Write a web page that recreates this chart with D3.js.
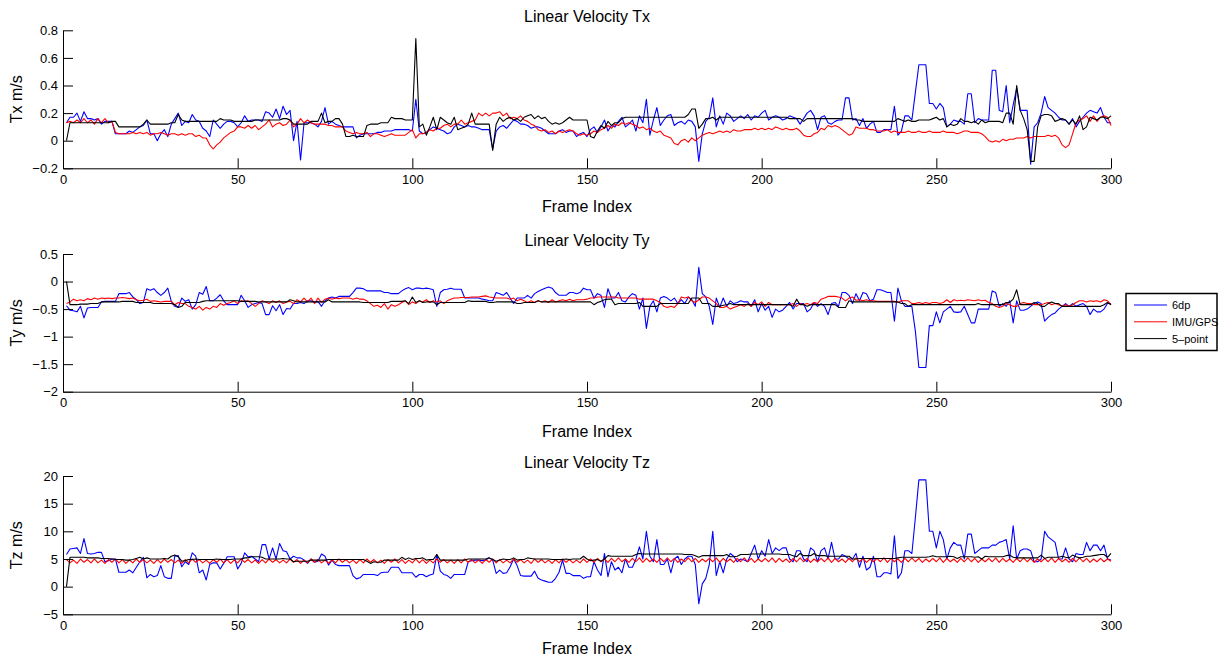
<!DOCTYPE html>
<html>
<head>
<meta charset="utf-8">
<script src="https://cdn.jsdelivr.net/npm/d3@7"></script>
<style>
  body { margin: 0; background: #fff; }
  text { font-family: "Liberation Sans", Arial, Helvetica, sans-serif; fill: #000; }
</style>
</head>
<body>
<div id="chart"></div>
<script>
"use strict";

// frame axis
var frameTicks = [0, 50, 100, 150, 200, 250, 300];

// series names (legend order)
var seriesNames = ["6dp", "IMU/GPS", "5\u2013point"];

// Tx
var txTicks = [-0.2, 0, 0.2, 0.4, 0.6, 0.8];
var tx6dp = [
  0.13, 0.17, 0.17, 0.2, 0.14, 0.21, 0.16, 0.16, 0.15, 0.16,
  0.12, 0.14, 0.14, 0.14, 0.05, 0.05, 0.05, 0.05, 0.07, 0.06,
  0.08, 0.1, 0.11, 0.15, 0.05, 0.05, 0.0, 0.05, 0.08, 0.03,
  0.12, 0.16, 0.2, 0.11, 0.14, 0.13, 0.19, 0.15, 0.14, 0.09,
  0.07, 0.03, 0.15, 0.12, 0.09, 0.12, 0.14, 0.14, 0.13, 0.1,
  0.13, 0.18, 0.14, 0.15, 0.15, 0.15, 0.14, 0.21, 0.2, 0.17,
  0.23, 0.16, 0.25, 0.19, 0.22, 0.0, 0.14, -0.14, 0.13, 0.13,
  0.13, 0.12, 0.1, 0.14, 0.24, 0.12, 0.14, 0.12, 0.11, 0.1,
  0.1, 0.1, 0.1, 0.02, 0.04, 0.05, 0.05, 0.05, 0.05, 0.06,
  0.06, 0.07, 0.07, 0.07, 0.08, 0.08, 0.08, 0.08, 0.08, 0.07,
  0.3, 0.07, 0.05, 0.06, 0.08, 0.1, 0.09, 0.08, 0.07, 0.05,
  0.06, 0.1, 0.12, 0.11, 0.1, 0.11, 0.1, 0.1, 0.09, 0.08,
  0.08, 0.08, -0.06, 0.07, 0.1, 0.11, 0.09, 0.12, 0.15, 0.14,
  0.12, 0.12, 0.11, 0.09, 0.1, 0.1, 0.09, 0.07, 0.05, 0.05,
  0.05, 0.07, 0.08, 0.06, 0.07, 0.07, 0.03, 0.05, 0.06, 0.03,
  0.08, 0.1, 0.06, 0.1, 0.15, 0.07, 0.11, 0.1, 0.14, 0.17,
  0.1, 0.12, 0.15, 0.07, 0.18, 0.13, 0.3, 0.04, 0.15, 0.24,
  0.11, 0.15, 0.18, 0.19, 0.11, 0.13, 0.14, 0.12, 0.15, 0.14,
  0.1, -0.15, 0.05, 0.14, 0.17, 0.31, 0.1, 0.18, 0.12, 0.2,
  0.18, 0.14, 0.16, 0.18, 0.16, 0.19, 0.15, 0.18, 0.17, 0.2,
  0.22, 0.15, 0.17, 0.18, 0.17, 0.15, 0.16, 0.18, 0.17, 0.16,
  0.12, 0.16, 0.2, 0.22, 0.18, 0.08, 0.17, 0.18, 0.13, 0.12,
  0.14, 0.15, 0.15, 0.31, 0.31, 0.15, 0.16, 0.11, 0.16, 0.09,
  0.12, 0.14, 0.06, 0.06, 0.08, 0.08, 0.08, 0.25, 0.04, 0.07,
  0.18, 0.18, 0.15, 0.35, 0.55, 0.55, 0.55, 0.27, 0.27, 0.23,
  0.27, 0.24, 0.1, 0.12, 0.15, 0.14, 0.14, 0.12, 0.34, 0.34,
  0.13, 0.16, 0.15, 0.15, 0.15, 0.51, 0.51, 0.22, 0.21, 0.4,
  0.13, 0.26, 0.38, 0.22, 0.22, 0.22, -0.17, 0.1, 0.13, 0.2,
  0.32, 0.24, 0.22, 0.2, 0.17, 0.15, 0.15, 0.12, 0.16, 0.1,
  0.14, 0.17, 0.2, 0.22, 0.21, 0.2, 0.24, 0.17, 0.13, 0.13
];
var txImu = [
  0.13, 0.14, 0.13, 0.15, 0.13, 0.16, 0.13, 0.15, 0.12, 0.16,
  0.13, 0.16, 0.13, 0.14, 0.06, 0.05, 0.05, 0.05, 0.05, 0.06,
  0.05, 0.06, 0.05, 0.06, 0.04, 0.05, 0.05, 0.06, 0.05, 0.04,
  0.05, 0.05, 0.04, 0.05, 0.04, 0.05, 0.05, 0.03, 0.04, 0.02,
  0.02, -0.03, -0.06, -0.03, -0.01, 0.02, 0.04, 0.06, 0.07, 0.1,
  0.1, 0.09, 0.11, 0.09, 0.11, 0.08, 0.1, 0.12, 0.15, 0.1,
  0.12, 0.13, 0.11, 0.12, 0.15, 0.1, 0.12, 0.16, 0.13, 0.15,
  0.13, 0.12, 0.12, 0.12, 0.12, 0.11, 0.11, 0.1, 0.1, 0.1,
  0.07, 0.06, 0.05, 0.06, 0.05, 0.05, 0.06, 0.03, 0.05, 0.05,
  0.04, 0.03, 0.04, 0.05, 0.04, 0.04, 0.04, 0.04, 0.06, 0.08,
  0.02, 0.05, 0.05, 0.06, 0.08, 0.07, 0.09, 0.09, 0.11, 0.12,
  0.1, 0.12, 0.12, 0.15, 0.12, 0.13, 0.14, 0.15, 0.2, 0.18,
  0.2, 0.18, 0.2, 0.2, 0.21, 0.18, 0.2, 0.16, 0.17, 0.16,
  0.18, 0.15, 0.14, 0.12, 0.11, 0.08, 0.07, 0.08, 0.06, 0.07,
  0.05, 0.07, 0.06, 0.07, 0.08, 0.07, 0.05, 0.04, 0.05, 0.04,
  0.05, 0.07, 0.06, 0.08, 0.09, 0.11, 0.09, 0.12, 0.11, 0.13,
  0.12, 0.13, 0.12, 0.11, 0.09, 0.1, 0.08, 0.09, 0.07, 0.06,
  0.07, 0.04, 0.03, 0.02, -0.02, -0.03, 0.0, 0.01, -0.01, 0.02,
  0.0, 0.02, 0.04, 0.05, 0.06, 0.05, 0.06, 0.07, 0.06, 0.07,
  0.06, 0.08, 0.07, 0.07, 0.08, 0.08, 0.08, 0.09, 0.08, 0.09,
  0.08, 0.09, 0.08, 0.1, 0.09, 0.08, 0.09, 0.08, 0.08, 0.09,
  0.07, 0.04, 0.03, 0.03, 0.05, 0.06, 0.09, 0.08, 0.11, 0.1,
  0.11, 0.1, 0.08, 0.06, 0.04, 0.05, 0.1, 0.09, 0.09, 0.09,
  0.08, 0.08, 0.07, 0.07, 0.07, 0.08, 0.06, 0.07, 0.06, 0.06,
  0.06, 0.07, 0.06, 0.06, 0.07, 0.06, 0.06, 0.07, 0.06, 0.06,
  0.06, 0.07, 0.06, 0.06, 0.06, 0.05, 0.06, 0.07, 0.07, 0.06,
  0.06, 0.06, 0.05, 0.03, 0.0, -0.01, 0.0, -0.01, 0.01, 0.0,
  0.01, 0.01, 0.02, 0.02, 0.02, 0.03, 0.02, 0.03, 0.03, 0.03,
  0.03, 0.04, 0.03, 0.04, 0.02, -0.03, -0.05, -0.03, 0.05, 0.13,
  0.15, 0.16, 0.18, 0.14, 0.18, 0.14, 0.17, 0.18, 0.17, 0.11
];
var tx5pt = [
  0, 0.13, 0.13, 0.13, 0.13, 0.13, 0.13, 0.13, 0.13, 0.13,
  0.13, 0.13, 0.13, 0.14, 0.14, 0.1, 0.1, 0.1, 0.1, 0.1,
  0.1, 0.1, 0.12, 0.15, 0.12, 0.12, 0.12, 0.12, 0.12, 0.12,
  0.13, 0.13, 0.19, 0.15, 0.14, 0.14, 0.14, 0.14, 0.14, 0.14,
  0.14, 0.14, 0.14, 0.14, 0.16, 0.15, 0.15, 0.15, 0.14, 0.14,
  0.14, 0.14, 0.14, 0.14, 0.15, 0.15, 0.15, 0.15, 0.15, 0.15,
  0.15, 0.15, 0.16, 0.16, 0.15, 0.12, 0.12, 0.12, 0.12, 0.12,
  0.14, 0.14, 0.14, 0.2, 0.13, 0.14, 0.14, 0.16, 0.16, 0.12,
  0.03, 0.03, 0.04, 0.03, 0.03, 0.03, 0.11, 0.12, 0.12, 0.12,
  0.13, 0.13, 0.13, 0.17, 0.16, 0.16, 0.16, 0.15, 0.15, 0.15,
  0.74, 0.1, 0.12, 0.04, 0.1, 0.17, 0.08, 0.17, 0.15, 0.13,
  0.12, 0.17, 0.08, 0.09, 0.1, 0.12, 0.2, 0.12, 0.12, 0.12,
  0.12, 0.12, -0.07, 0.12, 0.17, 0.14, 0.16, 0.17, 0.15, 0.16,
  0.14, 0.17, 0.18, 0.19, 0.16, 0.18, 0.16, 0.17, 0.14, 0.12,
  0.13, 0.12, 0.13, 0.15, 0.17, 0.15, 0.15, 0.15, 0.15, 0.15,
  0.03, 0.02, 0.07, 0.11, 0.09, 0.14, 0.11, 0.13, 0.13, 0.16,
  0.17, 0.17, 0.17, 0.17, 0.17, 0.17, 0.17, 0.17, 0.17, 0.17,
  0.17, 0.17, 0.17, 0.17, 0.17, 0.17, 0.17, 0.17, 0.19, 0.23,
  0.23, 0.09, 0.12, 0.16, 0.16, 0.17, 0.15, 0.17, 0.17, 0.17,
  0.17, 0.17, 0.17, 0.17, 0.17, 0.17, 0.17, 0.17, 0.17, 0.17,
  0.17, 0.17, 0.17, 0.17, 0.17, 0.17, 0.17, 0.16, 0.16, 0.16,
  0.16, 0.14, 0.16, 0.16, 0.16, 0.16, 0.16, 0.16, 0.16, 0.16,
  0.16, 0.16, 0.16, 0.16, 0.16, 0.16, 0.15, 0.15, 0.14, 0.14,
  0.14, 0.14, 0.14, 0.14, 0.14, 0.14, 0.14, 0.14, 0.16, 0.15,
  0.14, 0.15, 0.14, 0.14, 0.15, 0.15, 0.15, 0.15, 0.16, 0.17,
  0.15, 0.16, 0.1, 0.12, 0.11, 0.12, 0.16, 0.14, 0.14, 0.13,
  0.14, 0.12, 0.15, 0.13, 0.14, 0.14, 0.14, 0.14, 0.13, 0.2,
  0.2, 0.12, 0.4, 0.22, 0.16, 0.08, -0.15, -0.15, 0.1, 0.18,
  0.19, 0.19, 0.18, 0.14, 0.15, 0.16, 0.15, 0.12, 0.15, 0.12,
  0.18, 0.08, 0.1, 0.17, 0.16, 0.15, 0.17, 0.17, 0.16, 0.18
];

// Ty
var tyTicks = [-2, -1.5, -1, -0.5, 0, 0.5];
var ty6dp = [
  -0.44, -0.52, -0.53, -0.55, -0.45, -0.66, -0.48, -0.47, -0.47, -0.47,
  -0.37, -0.36, -0.36, -0.36, -0.36, -0.22, -0.22, -0.22, -0.2, -0.28,
  -0.33, -0.4, -0.38, -0.13, -0.16, -0.13, -0.2, -0.25, -0.2, -0.12,
  -0.36, -0.45, -0.47, -0.3, -0.36, -0.33, -0.5, -0.42, -0.2, -0.23,
  -0.09, -0.35, -0.35, -0.3, -0.24, -0.35, -0.42, -0.42, -0.42, -0.42,
  -0.25, -0.35, -0.47, -0.42, -0.4, -0.38, -0.4, -0.6, -0.6, -0.44,
  -0.53, -0.42, -0.6, -0.49, -0.5, -0.4, -0.4, -0.38, -0.4, -0.35,
  -0.35, -0.38, -0.36, -0.45, -0.35, -0.3, -0.28, -0.3, -0.27, -0.27,
  -0.27, -0.27, -0.2, -0.12, -0.12, -0.13, -0.17, -0.17, -0.17, -0.17,
  -0.17, -0.2, -0.2, -0.22, -0.22, -0.22, -0.17, -0.13, -0.11, -0.15,
  -0.12, -0.12, -0.13, -0.12, -0.13, -0.15, -0.45, -0.2, -0.15, -0.14,
  -0.12, -0.14, -0.14, -0.14, -0.3, -0.3, -0.3, -0.3, -0.3, -0.32,
  -0.33, -0.35, -0.35, -0.2, -0.22, -0.25, -0.2, -0.3, -0.4, -0.3,
  -0.3, -0.3, -0.25, -0.3, -0.22, -0.18, -0.15, -0.12, -0.1, -0.12,
  -0.2, -0.25, -0.25, -0.25, -0.2, -0.2, -0.22, -0.2, -0.12, -0.15,
  -0.15, -0.3, -0.22, -0.25, -0.47, -0.13, -0.3, -0.3, -0.2, -0.35,
  -0.37, -0.28, -0.22, -0.25, -0.5, -0.3, -0.85, -0.45, -0.35, -0.55,
  -0.3, -0.27, -0.3, -0.35, -0.3, -0.4, -0.33, -0.4, -0.28, -0.33,
  -0.45, 0.26, -0.22, -0.28, -0.45, -0.78, -0.3, -0.47, -0.3, -0.45,
  -0.35, -0.4, -0.38, -0.35, -0.37, -0.37, -0.45, -0.33, -0.55, -0.4,
  -0.52, -0.45, -0.65, -0.5, -0.55, -0.52, -0.45, -0.38, -0.5, -0.4,
  -0.4, -0.4, -0.55, -0.5, -0.38, -0.45, -0.4, -0.45, -0.6, -0.4,
  -0.38, -0.45, -0.2, -0.2, -0.25, -0.4, -0.22, -0.35, -0.2, -0.22,
  -0.35, -0.32, -0.15, -0.15, -0.17, -0.2, -0.2, -0.72, -0.12, -0.35,
  -0.45, -0.45, -0.45, -0.9, -1.56, -1.56, -1.56, -0.8, -0.8, -0.55,
  -0.75, -0.55, -0.5, -0.45, -0.55, -0.56, -0.55, -0.45, -0.6, -0.75,
  -0.75, -0.5, -0.5, -0.5, -0.5, -0.17, -0.2, -0.45, -0.4, -0.45,
  -0.35, -0.75, -0.35, -0.52, -0.52, -0.5, -0.45, -0.4, -0.37, -0.4,
  -0.72, -0.65, -0.6, -0.57, -0.5, -0.45, -0.4, -0.45, -0.4, -0.45,
  -0.42, -0.4, -0.45, -0.6, -0.5, -0.55, -0.55, -0.5, -0.4, -0.4
];
var tyImu = [
  -0.4, -0.37, -0.32, -0.35, -0.33, -0.35, -0.31, -0.33, -0.3, -0.32,
  -0.3, -0.31, -0.3, -0.31, -0.3, -0.3, -0.29, -0.3, -0.31, -0.3,
  -0.33, -0.35, -0.34, -0.32, -0.36, -0.35, -0.36, -0.37, -0.36, -0.36,
  -0.36, -0.42, -0.38, -0.4, -0.4, -0.45, -0.47, -0.5, -0.45, -0.52,
  -0.47, -0.5, -0.45, -0.47, -0.4, -0.43, -0.4, -0.38, -0.35, -0.4,
  -0.35, -0.36, -0.35, -0.4, -0.45, -0.4, -0.35, -0.37, -0.4, -0.35,
  -0.38, -0.35, -0.4, -0.37, -0.36, -0.4, -0.33, -0.37, -0.3, -0.37,
  -0.3, -0.4, -0.3, -0.38, -0.32, -0.3, -0.32, -0.3, -0.31, -0.3,
  -0.3, -0.3, -0.32, -0.3, -0.32, -0.32, -0.35, -0.4, -0.45, -0.43,
  -0.47, -0.4, -0.5, -0.42, -0.45, -0.42, -0.38, -0.35, -0.42, -0.37,
  -0.4, -0.35, -0.37, -0.33, -0.38, -0.35, -0.37, -0.35, -0.4, -0.35,
  -0.32, -0.3, -0.3, -0.29, -0.29, -0.29, -0.28, -0.28, -0.28, -0.27,
  -0.26, -0.28, -0.29, -0.3, -0.3, -0.3, -0.3, -0.32, -0.3, -0.35,
  -0.32, -0.35, -0.38, -0.35, -0.38, -0.35, -0.37, -0.35, -0.38, -0.33,
  -0.37, -0.35, -0.33, -0.35, -0.32, -0.35, -0.33, -0.33, -0.33, -0.32,
  -0.3, -0.3, -0.28, -0.28, -0.28, -0.28, -0.28, -0.28, -0.3, -0.3,
  -0.3, -0.3, -0.3, -0.3, -0.32, -0.32, -0.32, -0.32, -0.32, -0.35,
  -0.38, -0.45, -0.47, -0.45, -0.47, -0.4, -0.28, -0.3, -0.28, -0.35,
  -0.38, -0.33, -0.28, -0.28, -0.3, -0.35, -0.4, -0.47, -0.47, -0.45,
  -0.5, -0.47, -0.45, -0.42, -0.45, -0.4, -0.45, -0.38, -0.42, -0.37,
  -0.45, -0.38, -0.42, -0.42, -0.42, -0.42, -0.42, -0.42, -0.4, -0.45,
  -0.4, -0.42, -0.4, -0.42, -0.38, -0.4, -0.32, -0.3, -0.27, -0.27,
  -0.27, -0.28, -0.3, -0.35, -0.3, -0.28, -0.34, -0.33, -0.35, -0.33,
  -0.35, -0.35, -0.36, -0.36, -0.36, -0.36, -0.36, -0.36, -0.38, -0.35,
  -0.35, -0.35, -0.4, -0.4, -0.38, -0.4, -0.38, -0.4, -0.38, -0.38,
  -0.4, -0.38, -0.33, -0.38, -0.33, -0.35, -0.34, -0.35, -0.33, -0.34,
  -0.35, -0.33, -0.35, -0.34, -0.38, -0.4, -0.45, -0.47, -0.45, -0.4,
  -0.42, -0.45, -0.45, -0.4, -0.38, -0.4, -0.4, -0.42, -0.42, -0.42,
  -0.4, -0.38, -0.42, -0.4, -0.42, -0.45, -0.42, -0.45, -0.42, -0.38,
  -0.35, -0.35, -0.37, -0.35, -0.36, -0.35, -0.37, -0.33, -0.35, -0.42
];
var ty5pt = [
  0, -0.42, -0.42, -0.42, -0.41, -0.41, -0.41, -0.4, -0.4, -0.4,
  -0.37, -0.37, -0.37, -0.37, -0.37, -0.37, -0.36, -0.36, -0.36, -0.36,
  -0.38, -0.38, -0.38, -0.38, -0.38, -0.4, -0.4, -0.4, -0.4, -0.4,
  -0.4, -0.42, -0.47, -0.45, -0.38, -0.38, -0.38, -0.38, -0.38, -0.36,
  -0.35, -0.35, -0.35, -0.35, -0.35, -0.35, -0.35, -0.35, -0.35, -0.35,
  -0.36, -0.36, -0.36, -0.36, -0.36, -0.37, -0.37, -0.37, -0.37, -0.37,
  -0.37, -0.37, -0.37, -0.37, -0.33, -0.35, -0.37, -0.37, -0.37, -0.37,
  -0.37, -0.37, -0.37, -0.37, -0.37, -0.33, -0.37, -0.37, -0.37, -0.37,
  -0.37, -0.37, -0.37, -0.37, -0.37, -0.38, -0.38, -0.38, -0.38, -0.38,
  -0.38, -0.38, -0.38, -0.36, -0.36, -0.36, -0.36, -0.35, -0.4, -0.28,
  -0.38, -0.35, -0.38, -0.37, -0.37, -0.37, -0.42, -0.38, -0.38, -0.38,
  -0.38, -0.38, -0.38, -0.38, -0.38, -0.35, -0.36, -0.36, -0.36, -0.36,
  -0.36, -0.38, -0.38, -0.37, -0.37, -0.37, -0.37, -0.37, -0.37, -0.4,
  -0.4, -0.38, -0.38, -0.38, -0.38, -0.35, -0.37, -0.37, -0.37, -0.37,
  -0.37, -0.37, -0.37, -0.37, -0.37, -0.37, -0.37, -0.37, -0.37, -0.37,
  -0.37, -0.42, -0.38, -0.36, -0.33, -0.32, -0.32, -0.42, -0.4, -0.4,
  -0.4, -0.4, -0.4, -0.4, -0.38, -0.45, -0.45, -0.45, -0.45, -0.45,
  -0.4, -0.4, -0.4, -0.4, -0.4, -0.4, -0.4, -0.4, -0.4, -0.3,
  -0.3, -0.3, -0.4, -0.4, -0.4, -0.45, -0.45, -0.45, -0.43, -0.42,
  -0.4, -0.42, -0.42, -0.42, -0.42, -0.42, -0.42, -0.42, -0.42, -0.42,
  -0.42, -0.42, -0.42, -0.42, -0.42, -0.42, -0.42, -0.42, -0.45, -0.32,
  -0.42, -0.42, -0.45, -0.42, -0.42, -0.42, -0.42, -0.42, -0.42, -0.42,
  -0.42, -0.47, -0.47, -0.47, -0.35, -0.37, -0.37, -0.37, -0.37, -0.37,
  -0.37, -0.37, -0.37, -0.37, -0.37, -0.37, -0.37, -0.37, -0.37, -0.4,
  -0.4, -0.45, -0.42, -0.42, -0.42, -0.42, -0.42, -0.42, -0.42, -0.42,
  -0.42, -0.42, -0.42, -0.42, -0.42, -0.42, -0.42, -0.42, -0.42, -0.42,
  -0.42, -0.4, -0.42, -0.42, -0.42, -0.42, -0.42, -0.42, -0.42, -0.38,
  -0.38, -0.32, -0.15, -0.42, -0.42, -0.42, -0.42, -0.38, -0.4, -0.45,
  -0.45, -0.4, -0.37, -0.4, -0.4, -0.45, -0.45, -0.45, -0.45, -0.45,
  -0.45, -0.45, -0.45, -0.45, -0.45, -0.45, -0.45, -0.42, -0.38, -0.42
];

// Tz
var tzTicks = [-5, 0, 5, 10, 15, 20];
var tz6dp = [
  5.8, 6.8, 6.9, 7.0, 6.0, 8.7, 6.0, 5.9, 6.0, 6.2,
  6.2, 4.5, 4.7, 5.0, 5.0, 2.6, 2.6, 2.6, 3.0, 2.5,
  3.5, 4.5, 5.3, 1.6, 2.2, 1.8, 2.0, 3.8, 1.8, 1.5,
  1.5, 5.5, 5.6, 3.6, 4.5, 4.0, 6.1, 5.5, 2.5, 3.0,
  1.2, 4.0, 4.3, 4.3, 3.2, 4.2, 5.4, 5.4, 5.4, 3.2,
  4.2, 6.1, 5.4, 5.5, 5.0, 4.5, 7.6, 7.6, 5.0, 7.0,
  5.0, 7.8, 6.5, 6.3, 5.0, 5.5, 5.2, 5.2, 4.8, 4.2,
  5.0, 4.4, 4.6, 5.9, 5.5, 3.9, 4.8, 4.0, 3.8, 3.8,
  3.8, 3.8, 2.0, 1.4, 1.6, 2.2, 2.2, 2.2, 2.2, 2.0,
  2.5, 2.6, 2.6, 3.5, 3.5, 3.5, 2.5, 2.5, 2.5, 2.5,
  1.7, 2.2, 2.2, 1.8, 2.1, 2.3, 5.8, 2.8, 2.2, 2.0,
  1.5, 2.2, 2.2, 2.2, 2.2, 4.5, 4.7, 4.8, 4.8, 4.7,
  4.8, 5.2, 4.8, 2.4, 3.0, 2.4, 2.5, 3.6, 5.0, 3.8,
  2.0, 1.9, 1.9, 1.9, 2.8, 1.5, 1.2, 1.0, 0.8, 0.8,
  1.5, 2.6, 4.8, 2.4, 2.4, 2.0, 2.0, 2.0, 1.5, 1.8,
  1.8, 4.5, 3.0, 2.0, 6.0, 1.8, 4.5, 3.0, 3.5, 2.5,
  5.0, 3.5, 3.5, 5.0, 7.2, 5.0, 10.0, 5.5, 4.5, 8.5,
  4.0, 4.0, 5.0, 2.5, 5.0, 5.5, 4.0, 5.0, 5.5, 5.5,
  4.0, -3.1, 0.5, 1.5, 4.0, 10.0, 2.0, 4.5, 2.5, 5.0,
  6.0, 5.5, 4.5, 5.0, 4.8, 4.5, 6.0, 7.5, 5.0, 6.5,
  5.5, 8.5, 6.0, 7.0, 6.5, 7.0, 7.0, 5.0, 4.5, 6.5,
  6.5, 5.0, 4.5, 7.0, 6.5, 4.5, 6.5, 7.0, 5.0, 8.0,
  5.0, 5.0, 5.8, 5.5, 5.0, 5.0, 6.0, 3.5, 5.5, 3.0,
  3.5, 5.5, 1.8, 1.8, 2.5, 2.5, 2.3, 9.2, 1.5, 2.5,
  6.5, 6.5, 6.0, 12.5, 19.3, 19.3, 19.3, 10.0, 10.0, 7.0,
  10.0, 8.5, 5.0, 7.0, 8.0, 7.5, 7.5, 5.0, 9.5, 9.5,
  6.0, 6.5, 7.0, 7.0, 7.0, 7.5, 7.5, 8.0, 8.2, 8.5,
  5.0, 11.0, 5.0, 6.5, 6.8, 6.8, 6.5, 4.5, 4.5, 5.0,
  10.0, 9.0, 8.5, 8.0, 5.0, 5.0, 7.0, 5.0, 4.5, 6.0,
  5.8, 5.8, 8.0, 6.5, 7.5, 7.5, 6.5, 7.5, 5.0, 4.8
];
var tzImu = [
  4.9, 4.3, 4.8, 4.2, 5.0, 4.4, 4.9, 4.3, 5.0, 4.3, 4.8, 4.2, 4.9, 4.4, 5.0, 4.3, 4.9, 4.2, 4.8, 4.3, 5.0, 4.4, 4.9, 4.3, 4.8,
  4.2, 4.9, 4.3, 5.0, 4.4, 4.9, 4.3, 4.8, 4.2, 4.9, 4.3, 5.0, 4.4, 4.9, 4.3, 4.8, 4.2, 4.9, 4.4, 5.0, 4.3, 4.9, 4.2, 4.8, 4.3,
  5.0, 4.4, 4.9, 4.3, 4.8, 4.2, 4.9, 4.3, 5.0, 4.4, 4.9, 4.3, 4.8, 4.3, 5.0, 4.4, 4.9, 4.2, 4.8, 4.3, 5.0, 4.4, 4.9, 4.3, 4.8,
  4.2, 4.9, 4.3, 5.0, 4.4, 4.9, 4.3, 4.8, 4.2, 4.9, 4.3, 5.0, 4.4, 4.9, 4.3, 4.8, 4.2, 4.9, 4.4, 5.0, 4.3, 4.9, 4.2, 4.8, 4.3,
  5.0, 4.3, 4.9, 4.2, 4.8, 4.3, 5.0, 4.4, 4.9, 4.3, 4.8, 4.2, 4.9, 4.3, 5.0, 4.4, 4.9, 4.3, 4.8, 4.2, 4.9, 4.4, 5.0, 4.3, 4.9,
  4.3, 4.8, 4.3, 5.0, 4.4, 4.9, 4.3, 4.8, 4.2, 5.0, 4.4, 4.9, 4.3, 4.8, 4.2, 4.9, 4.3, 5.0, 4.4, 4.9, 4.3, 4.8, 4.3, 5.0, 4.4,
  5.0, 4.4, 5.1, 4.5, 5.0, 4.4, 5.1, 4.5, 5.2, 4.5, 5.0, 4.4, 5.1, 4.5, 5.2, 4.4, 5.1, 4.5, 5.0, 4.4, 5.1, 4.5, 5.2, 4.5, 5.1,
  4.4, 5.0, 4.5, 5.2, 4.5, 5.1, 4.4, 5.0, 4.5, 5.1, 4.5, 5.2, 4.4, 5.1, 4.5, 5.0, 4.4, 5.1, 4.5, 5.2, 4.5, 5.1, 4.4, 5.0, 4.5,
  5.1, 4.5, 5.2, 4.4, 5.1, 4.5, 5.0, 4.4, 5.1, 4.5, 5.2, 4.5, 5.1, 4.4, 5.0, 4.5, 5.1, 4.5, 5.2, 4.4, 5.1, 4.5, 5.0, 4.4, 5.1,
  4.5, 5.2, 4.5, 5.1, 4.4, 5.0, 4.5, 5.1, 4.5, 5.2, 4.4, 5.1, 4.5, 5.0, 4.4, 5.1, 4.5, 5.2, 4.5, 5.1, 4.4, 5.0, 4.5, 5.1, 4.5,
  5.2, 4.4, 5.1, 4.5, 5.0, 4.4, 5.1, 4.5, 5.2, 4.5, 5.1, 4.4, 5.0, 4.5, 5.1, 4.5, 5.2, 4.4, 5.1, 4.5, 5.0, 4.4, 5.1, 4.5, 5.2,
  4.5, 5.1, 4.4, 5.0, 4.5, 5.1, 4.5, 5.2, 4.4, 5.1, 4.5, 5.0, 4.4, 5.1, 4.5, 5.2, 4.5, 5.1, 4.4, 5.0, 4.5, 5.1, 4.5, 5.0, 4.6
];
var tz5pt = [
  0, 5.3, 5.3, 5.3, 5.3, 5.3, 5.2, 5.2, 5.2, 5.2,
  5.1, 5.1, 5.1, 5.0, 4.9, 4.9, 4.9, 4.8, 4.8, 4.9,
  5.1, 5.3, 5.0, 5.2, 5.0, 5.0, 5.0, 5.0, 5.1, 5.0,
  5.5, 5.7, 5.4, 4.6, 4.7, 4.9, 4.9, 5.0, 4.9, 4.9,
  4.9, 4.9, 4.9, 5.0, 4.9, 4.9, 4.9, 4.9, 5.0, 5.0,
  5.0, 5.2, 5.2, 5.4, 5.4, 5.4, 5.3, 5.0, 5.0, 5.0,
  5.0, 5.0, 5.1, 5.0, 5.0, 4.5, 4.6, 4.6, 4.6, 4.6,
  4.8, 4.8, 4.8, 4.8, 4.8, 4.9, 4.9, 4.9, 4.9, 4.9,
  4.9, 4.9, 4.9, 4.9, 4.9, 4.9, 4.6, 4.2, 4.5, 4.4,
  4.4, 4.8, 4.8, 4.8, 4.8, 4.8, 5.3, 4.9, 5.2, 4.9,
  5.1, 5.1, 5.2, 4.8, 4.9, 4.9, 5.8, 4.8, 4.8, 4.8,
  4.8, 4.8, 4.8, 4.8, 4.8, 5.0, 5.0, 5.0, 5.0, 5.0,
  5.0, 5.2, 4.9, 4.6, 4.8, 5.0, 4.9, 4.9, 5.2, 4.8,
  4.9, 4.9, 5.2, 5.1, 5.0, 5.0, 5.0, 5.0, 5.0, 4.9,
  4.9, 4.9, 4.9, 5.0, 4.9, 5.0, 5.0, 5.0, 5.5, 5.0,
  4.7, 4.8, 4.9, 4.6, 5.0, 5.6, 5.5, 5.5, 5.5, 5.5,
  5.5, 5.5, 5.5, 5.8, 6.0, 5.9, 5.9, 5.9, 5.9, 5.9,
  5.9, 5.9, 5.9, 5.9, 5.9, 5.9, 5.9, 5.8, 5.8, 5.8,
  5.6, 5.3, 5.6, 5.6, 5.6, 5.6, 5.6, 5.6, 5.6, 5.8,
  5.4, 5.4, 5.5, 5.8, 5.8, 5.8, 5.9, 5.9, 5.9, 5.9,
  5.9, 5.9, 5.9, 5.9, 5.9, 5.8, 5.8, 5.8, 5.6, 5.4,
  6.0, 5.6, 5.6, 5.6, 6.0, 5.6, 5.6, 5.6, 5.5, 5.5,
  5.5, 5.5, 5.5, 5.5, 5.5, 5.0, 5.0, 5.1, 5.1, 5.1,
  5.1, 5.1, 5.1, 5.1, 5.1, 5.1, 5.1, 5.1, 5.2, 5.3,
  5.3, 5.3, 5.3, 5.3, 5.3, 5.3, 5.3, 5.4, 5.6, 5.4,
  5.4, 5.4, 5.4, 5.5, 5.4, 5.1, 5.4, 5.4, 5.4, 5.4,
  5.3, 5.4, 5.0, 5.5, 5.4, 5.4, 5.4, 5.4, 5.4, 5.6,
  5.7, 5.3, 5.2, 5.2, 5.2, 5.2, 5.2, 5.2, 5.2, 5.7,
  5.1, 5.3, 5.3, 5.3, 5.3, 5.5, 5.3, 5.2, 5.7, 5.4,
  5.2, 5.3, 5.5, 5.5, 5.6, 5.7, 5.8, 5.8, 5.3, 6.0
];

var seriesColors = ["#0000ff", "#ff0000", "#000000"];

var w = 1219;
var h = 657;

var svg = d3.select("#chart")
    .append("svg")
    .attr("width", w)
    .attr("height", h);

//Shared frame scale
var x = d3.scaleLinear()
    .domain([0, 300])
    .range([63, 1111]);

var minus = function (d) {
    return String(d).replace("-", "\u2212");
};

var panels = [
    {title: "Linear Velocity Tx", ylabel: "Tx m/s", top: 30.3, bottom: 168.3, ticks: txTicks,
        series: [tx6dp, txImu, tx5pt], xlabY: 212},
    {title: "Linear Velocity Ty", ylabel: "Ty m/s", top: 254, bottom: 391.7, ticks: tyTicks,
        series: [ty6dp, tyImu, ty5pt], xlabY: 437},
    {title: "Linear Velocity Tz", ylabel: "Tz m/s", top: 476, bottom: 614.3, ticks: tzTicks,
        series: [tz6dp, tzImu, tz5pt], xlabY: 654}
];

panels.forEach(function (p) {
    var y = d3.scaleLinear()
        .domain([p.ticks[0], p.ticks[p.ticks.length - 1]])
        .range([p.bottom, p.top]);

    var g = svg.append("g");

    //Lines: 6dp, IMU/GPS, then 5-point on top
    var line = d3.line()
        .x(function (d, i) { return x(i + 1); })
        .y(function (d) { return y(d); });

    p.series.forEach(function (vals, k) {
        g.append("path")
            .datum(vals)
            .attr("d", line)
            .attr("fill", "none")
            .attr("stroke", seriesColors[k])
            .attr("stroke-width", 1.1)
            .attr("stroke-linejoin", "round");
    });

    //Axes with inward ticks
    var xAxis = d3.axisBottom(x)
        .tickValues(frameTicks)
        .tickSizeInner(-10)
        .tickSizeOuter(0)
        .tickPadding(6)
        .tickFormat(d3.format("d"));

    var yAxis = d3.axisLeft(y)
        .tickValues(p.ticks)
        .tickSizeInner(-10)
        .tickSizeOuter(0)
        .tickPadding(5)
        .tickFormat(minus);

    var gx = g.append("g")
        .attr("transform", "translate(0," + p.bottom + ")")
        .call(xAxis);
    var gy = g.append("g")
        .attr("transform", "translate(63,0)")
        .call(yAxis);

    [gx, gy].forEach(function (a) {
        a.selectAll("text")
            .style("font-size", "13px")
            .attr("fill", "#000");
        a.selectAll("line, path").attr("stroke", "#000");
    });

    //Title and labels
    g.append("text")
        .attr("x", 587)
        .attr("y", p.top - 8.5)
        .attr("text-anchor", "middle")
        .style("font-size", "16px")
        .text(p.title);

    g.append("text")
        .attr("x", 587)
        .attr("y", p.xlabY)
        .attr("text-anchor", "middle")
        .style("font-size", "16px")
        .text("Frame Index");

    g.append("text")
        .attr("transform", "translate(22," + ((p.top + p.bottom) / 2) + ") rotate(-90)")
        .attr("text-anchor", "middle")
        .style("font-size", "16px")
        .text(p.ylabel);
});

//Legend
var legend = svg.append("g");
legend.append("rect")
    .attr("x", 1126)
    .attr("y", 293.5)
    .attr("width", 91)
    .attr("height", 57)
    .attr("fill", "#fff")
    .attr("stroke", "#000")
    .attr("stroke-width", 1.5);

seriesNames.forEach(function (name, k) {
    var ly = 305 + k * 16.8;
    legend.append("line")
        .attr("x1", 1134)
        .attr("x2", 1167)
        .attr("y1", ly)
        .attr("y2", ly)
        .attr("stroke", seriesColors[k])
        .attr("stroke-width", 1);
    legend.append("text")
        .attr("x", 1172)
        .attr("y", ly + 4)
        .style("font-size", "11px")
        .text(name);
});
</script>
</body>
</html>
